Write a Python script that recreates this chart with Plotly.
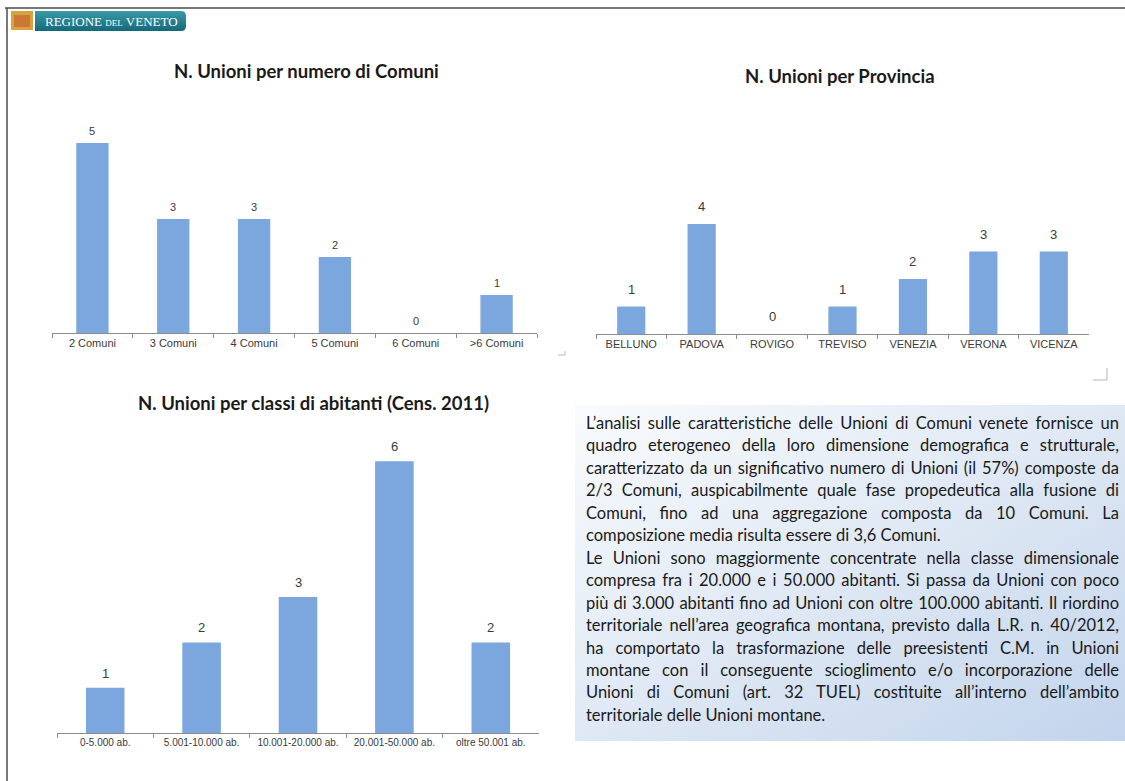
import base64
import json
import plotly.graph_objects as go

W, H = 1125, 781

# ---------------- data ----------------
comuni_cats = ["2 Comuni", "3 Comuni", "4 Comuni", "5 Comuni", "6 Comuni", ">6 Comuni"]
comuni_vals = [5, 3, 3, 2, 0, 1]

prov_cats = ["BELLUNO", "PADOVA", "ROVIGO", "TREVISO", "VENEZIA", "VERONA", "VICENZA"]
prov_vals = [1, 4, 0, 1, 2, 3, 3]

abit_cats = ["0-5.000 ab.", "5.001-10.000 ab.", "10.001-20.000 ab.", "20.001-50.000 ab.", "oltre 50.001 ab."]
abit_vals = [1, 2, 3, 6, 2]

titles = [
    "N. Unioni per numero di Comuni",
    "N. Unioni per Provincia",
    "N. Unioni per classi di abitanti (Cens. 2011)",
]

text_lines = [
    "L’analisi sulle caratteristiche delle Unioni di Comuni venete fornisce un",
    "quadro eterogeneo della loro dimensione demografica e strutturale,",
    "caratterizzato da un significativo numero di Unioni (il 57%) composte da",
    "2/3 Comuni, auspicabilmente quale fase propedeutica alla fusione di",
    "Comuni, fino ad una aggregazione composta da 10 Comuni. La",
    "composizione media risulta essere di 3,6 Comuni.",
    "Le Unioni sono maggiormente concentrate nella classe dimensionale",
    "compresa fra i 20.000 e i 50.000 abitanti. Si passa da Unioni con poco",
    "più di 3.000 abitanti fino ad Unioni con oltre 100.000 abitanti. Il riordino",
    "territoriale nell’area geografica montana, previsto dalla L.R. n. 40/2012,",
    "ha comportato la trasformazione delle preesistenti C.M. in Unioni",
    "montane con il conseguente scioglimento e/o incorporazione delle",
    "Unioni di Comuni (art. 32 TUEL) costituite all’interno dell’ambito",
    "territoriale delle Unioni montane.",
]
justified = [True, True, True, True, True, False, True, True, True, True, True, True, True, False]

# ---------------- helpers ----------------
def fx(x):
    return x / W

def fy(y):
    return 1 - y / H

BAR = "#7BA6DE"
TICK_FONT = "Liberation Sans, Arial, sans-serif"
TXT_FONT = "Lato, Carlito, Calibri, sans-serif"

fig = go.Figure()

charts = [
    dict(cats=comuni_cats, vals=comuni_vals, xa="x", ya="y", lab=11, off=12),
    dict(cats=prov_cats, vals=prov_vals, xa="x2", ya="y2", lab=13, off=17.5),
    dict(cats=abit_cats, vals=abit_vals, xa="x3", ya="y3", lab=13, off=14.5),
]

annotations = []
for c in charts:
    fig.add_trace(go.Bar(
        x=c["cats"], y=c["vals"], xaxis=c["xa"], yaxis=c["ya"],
        width=0.4, marker=dict(color=BAR, line=dict(width=0)),
        hoverinfo="x+y", showlegend=False,
    ))
    for cat, v in zip(c["cats"], c["vals"]):
        annotations.append(dict(
            x=cat, y=v, xref=c["xa"], yref=c["ya"], text=str(v), showarrow=False,
            yanchor="middle", yshift=c["off"],
            font=dict(family=TICK_FONT, size=c["lab"], color="#3a3a3a"),
        ))

def xaxis(domain, n, fsize, anchor):
    return dict(
        domain=domain, anchor=anchor, type="category", range=[-0.5, n - 0.5],
        showline=True, linecolor="#8c8c8c", linewidth=1,
        ticks="outside", tickson="boundaries", ticklen=4, tickcolor="#8c8c8c",
        tickfont=dict(family=TICK_FONT, size=fsize, color="#3a3a3a"),
        showgrid=False, zeroline=False, fixedrange=True,
    )

def yaxis(domain, rng, anchor):
    return dict(domain=domain, anchor=anchor, range=rng, visible=False,
                showgrid=False, zeroline=False, fixedrange=True)

# titles
title_pos = [(306, 71), (840, 76), (313, 403)]
for t, (px, py) in zip(titles, title_pos):
    annotations.append(dict(
        x=fx(px), y=fy(py), xref="paper", yref="paper", text="<b>%s</b>" % t,
        showarrow=False, xanchor="center", yanchor="middle",
        font=dict(family=TXT_FONT, size=18.5, color="#1a1a1a"),
    ))

# text box lines
for i, line in enumerate(text_lines):
    annotations.append(dict(
        x=fx(584), y=fy(423 + 22.45 * i), xref="paper", yref="paper", text=line,
        showarrow=False, xanchor="left", yanchor="middle", align="left",
        font=dict(family=TXT_FONT, size=16.5, color="#1a1a1a"),
    ))

# header banner text
annotations.append(dict(
    x=fx(111), y=fy(21), xref="paper", yref="paper",
    text="REGIONE <span style='font-size:9px'>DEL</span> VENETO",
    showarrow=False, xanchor="center", yanchor="middle",
    font=dict(family="Liberation Serif, Times New Roman, serif", size=13, color="#ffffff"),
))

# gradient background for the text box
svg = ("<svg xmlns='http://www.w3.org/2000/svg' width='550' height='336' preserveAspectRatio='none'>"
       "<defs><linearGradient id='g' x1='0' y1='0' x2='1' y2='1'>"
       "<stop offset='0' stop-color='#F9FBFD'/><stop offset='0.55' stop-color='#DCE6F3'/>"
       "<stop offset='1' stop-color='#C2D4EC'/></linearGradient></defs>"
       "<rect width='550' height='336' fill='url(#g)'/></svg>")
svg_uri = "data:image/svg+xml;base64," + base64.b64encode(svg.encode()).decode()

# banner gradient
svg2 = ("<svg xmlns='http://www.w3.org/2000/svg' width='151' height='20' preserveAspectRatio='none'>"
        "<defs><linearGradient id='b' x1='0' y1='0' x2='0' y2='1'>"
        "<stop offset='0' stop-color='#3A9AA8'/><stop offset='1' stop-color='#14697A'/></linearGradient></defs>"
        "<path d='M0 0 H146 Q151 0 151 5 V15 Q151 20 146 20 H0 Z' fill='url(#b)'/></svg>")
svg2_uri = "data:image/svg+xml;base64," + base64.b64encode(svg2.encode()).decode()

shapes = [
    # page frame
    dict(type="line", xref="paper", yref="paper", x0=fx(5), x1=fx(1125), y0=fy(8), y1=fy(8),
         line=dict(color="#4a4a4a", width=1.5)),
    dict(type="line", xref="paper", yref="paper", x0=fx(7), x1=fx(7), y0=fy(8), y1=fy(781),
         line=dict(color="#4a4a4a", width=1.5)),
    # logo
    dict(type="rect", xref="paper", yref="paper", x0=fx(11), x1=fx(33), y0=fy(30), y1=fy(11),
         fillcolor="#D9A23C", line=dict(width=0)),
    dict(type="rect", xref="paper", yref="paper", x0=fx(14), x1=fx(30), y0=fy(27), y1=fy(15),
         fillcolor="#C0552E", line=dict(width=0), opacity=0.55),
    # corner marks
    dict(type="line", xref="paper", yref="paper", x0=fx(558), x1=fx(565), y0=fy(355), y1=fy(355),
         line=dict(color="#c4c4c4", width=1.2)),
    dict(type="line", xref="paper", yref="paper", x0=fx(565), x1=fx(565), y0=fy(355), y1=fy(351),
         line=dict(color="#c4c4c4", width=1.2)),
    dict(type="line", xref="paper", yref="paper", x0=fx(1093), x1=fx(1107), y0=fy(380), y1=fy(380),
         line=dict(color="#c4c4c4", width=1.2)),
    dict(type="line", xref="paper", yref="paper", x0=fx(1107), x1=fx(1107), y0=fy(380), y1=fy(368),
         line=dict(color="#c4c4c4", width=1.2)),
]

fig.update_layout(
    width=W, height=H, margin=dict(l=0, r=0, t=0, b=0),
    paper_bgcolor="white", plot_bgcolor="rgba(0,0,0,0)", showlegend=False,
    xaxis=xaxis([fx(52), fx(537)], len(comuni_cats), 11, "y"),
    yaxis=yaxis([fy(333), fy(105)], [0, 6], "x"),
    xaxis2=xaxis([fx(596), fx(1089)], len(prov_cats), 11, "y2"),
    yaxis2=yaxis([fy(334), fy(169)], [0, 6], "x2"),
    xaxis3=xaxis([fx(57), fx(539)], len(abit_cats), 10, "y3"),
    yaxis3=yaxis([fy(733), fy(438.5)], [0, 6.5], "x3"),
    annotations=annotations,
    shapes=shapes,
    images=[
        dict(source=svg_uri, xref="paper", yref="paper", x=fx(575), y=fy(405),
             sizex=550 / W, sizey=336 / H, xanchor="left", yanchor="top",
             sizing="stretch", layer="below"),
        dict(source=svg2_uri, xref="paper", yref="paper", x=fx(35), y=fy(11),
             sizex=151 / W, sizey=20 / H, xanchor="left", yanchor="top",
             sizing="stretch", layer="below"),
    ],
)

just_lines = [l for l, j in zip(text_lines, justified) if j]
post = """
var gd = document.getElementById('{plot_id}');
var JUST = %s;
var TW = 533;
function justify(){
  var nodes = gd.querySelectorAll('g.annotation text.annotation-text');
  nodes.forEach(function(t){
    var s = (t.textContent || '').replace(/\\u00a0/g, ' ');
    if (JUST.indexOf(s) < 0) return;
    t.style.wordSpacing = '0px';
    var w = t.getComputedTextLength();
    var n = (s.match(/ /g) || []).length;
    if (n > 0) t.style.wordSpacing = ((TW - w) / n) + 'px';
  });
}
justify();
""" % json.dumps(just_lines, ensure_ascii=False)

fig.write_html("out.html", config={"displayModeBar": False}, post_script=post)
